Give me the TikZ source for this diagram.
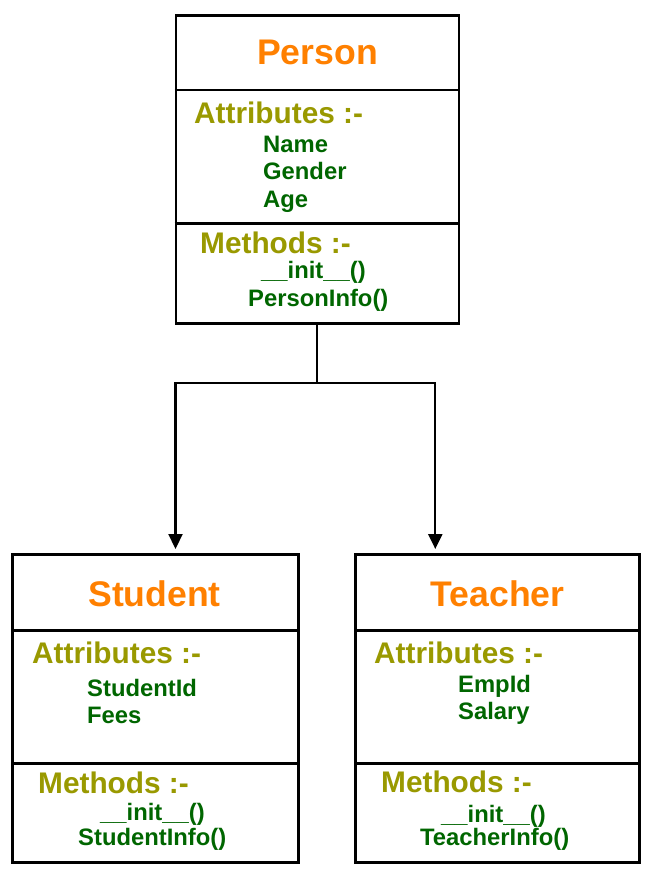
\documentclass[tikz,border=0pt]{standalone}
\usepackage{fontspec}
\setmainfont{Liberation Sans}
\usetikzlibrary{arrows.meta}
\definecolor{ttl}{RGB}{255,128,0}
\definecolor{hd}{RGB}{153,153,0}
\definecolor{itm}{RGB}{0,102,0}
\begin{document}
\begin{tikzpicture}[x=1pt,y=-1pt,
  box/.style={draw, line width=2.8pt, inner sep=0pt, anchor=north west},
  sep/.style={line width=2.8pt},
  titletext/.style={text=ttl, font=\fontsize{35.6}{40}\selectfont\bfseries, anchor=base, inner sep=0pt},
  headtext/.style={text=hd, font=\fontsize{29.8}{32}\selectfont\bfseries, anchor=base west, inner sep=0pt},
  itemtext/.style={text=itm, font=\fontsize{23.8}{26}\selectfont\bfseries, anchor=base west, inner sep=0pt},
  conn/.style={line width=2.2pt},
  tip/.style={-{Triangle[length=15pt,width=14pt]}}]
\useasboundingbox (0,0) rectangle (648,872);
\fill[white] (0,0) rectangle (648,872);

% boxes
\node[box, minimum width=283pt, minimum height=308pt] (person) at (174.5,14) {};
\node[box, minimum width=286pt, minimum height=308pt] (student) at (11.3,553.3) {};
\node[box, minimum width=284pt, minimum height=308pt] (teacher) at (354.2,553.3) {};

% compartments
\draw[sep] (174.5,90) -- (457.5,90);
\draw[sep] (174.5,223.5) -- (457.5,223.5);
\draw[sep] (11.3,630.7) -- (297.3,630.7);
\draw[sep] (11.3,763.3) -- (297.3,763.3);
\draw[sep] (354.2,630.7) -- (638.2,630.7);
\draw[sep] (354.2,763.5) -- (638.2,763.5);

% Person texts
\node[titletext] (p-title) at (317.5,65) {Person};
\node[headtext] (p-attr) at (194,124) {Attributes :-};
\node[itemtext] (p-a1) at (263,152) {Name};
\node[itemtext] (p-a2) at (263,179) {Gender};
\node[itemtext] (p-a3) at (263,207) {Age};
\node[headtext] (p-meth) at (200,253) {Methods :-};
\node[itemtext] (p-m1) at (261,278) {\_\_init\_\_()};
\node[itemtext] (p-m2) at (248,306) {PersonInfo()};

% Student texts
\node[titletext] (s-title) at (154.5,606) {Student};
\node[headtext] (s-attr) at (32,663) {Attributes :-};
\node[itemtext] (s-a1) at (87,696) {StudentId};
\node[itemtext] (s-a2) at (87,723) {Fees};
\node[headtext] (s-meth) at (38,793) {Methods :-};
\node[itemtext] (s-m1) at (100,820) {\_\_init\_\_()};
\node[itemtext] (s-m2) at (78,845) {StudentInfo()};

% Teacher texts
\node[titletext] (t-title) at (497.5,606) {Teacher};
\node[headtext] (t-attr) at (374,663) {Attributes :-};
\node[itemtext] (t-a1) at (458,692) {EmpId};
\node[itemtext] (t-a2) at (458,719) {Salary};
\node[headtext] (t-meth) at (381,792) {Methods :-};
\node[itemtext] (t-m1) at (441,822) {\_\_init\_\_()};
\node[itemtext] (t-m2) at (420,845) {TeacherInfo()};

% connectors
\coordinate (j) at (317,383);
\coordinate (sa) at (175.5,549);
\coordinate (ta) at (435.3,549);
\draw[conn] (person.south -| j) -- (j);
\draw[conn, tip] (j) -| (sa);
\draw[conn, tip] (j) -| (ta);
\end{tikzpicture}
\end{document}
